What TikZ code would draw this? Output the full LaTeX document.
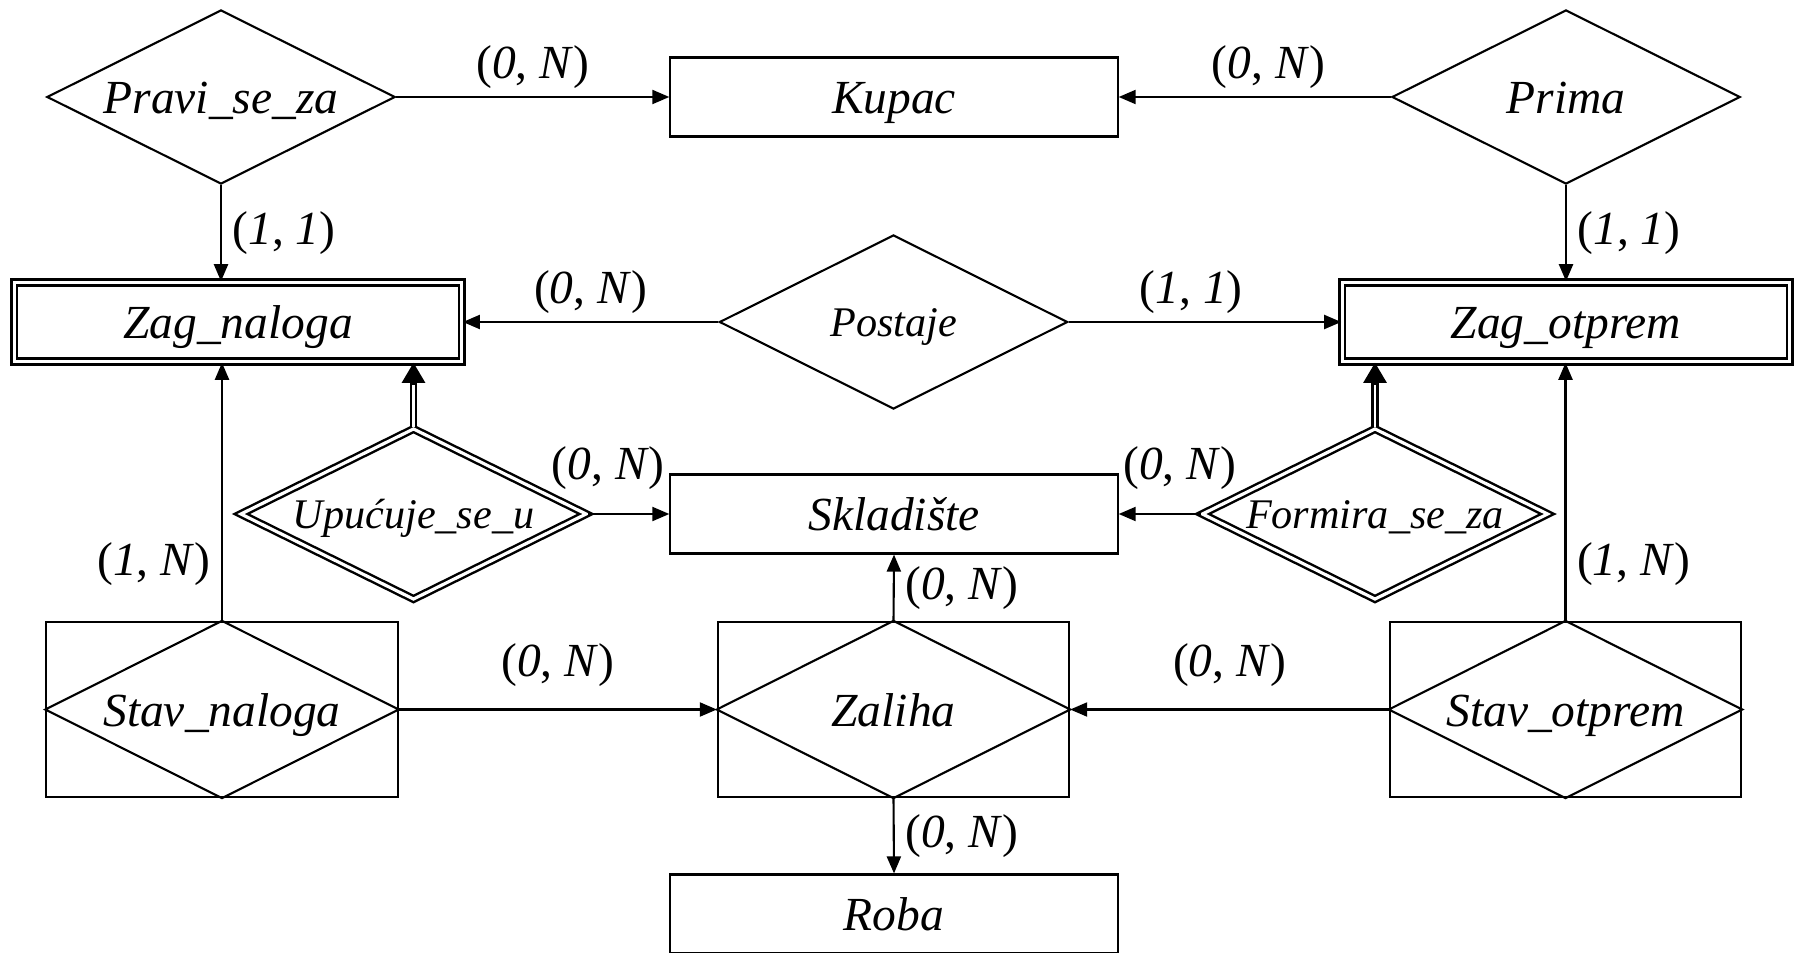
\documentclass[tikz,border=0pt]{standalone}
\usepackage{fontspec}
\setmainfont{Liberation Serif}
\usetikzlibrary{shapes.geometric,arrows.meta,calc}

\tikzset{
  ent/.style={draw, line width=0.6pt, minimum width=4.47cm, minimum height=0.79cm,
    inner sep=0pt, text height=0.38cm, text depth=0.05cm, font=\fontsize{13.5}{16}\selectfont\itshape},
  weakent/.style={ent, double, double distance=0.9pt, line width=0.7pt},
  rel/.style={draw, diamond, aspect=2, line width=0.6pt, minimum width=3.48cm, minimum height=1.74cm,
    inner sep=0pt, text height=0.38cm, text depth=0.05cm, font=\fontsize{13.5}{16}\selectfont\itshape},
  smallrel/.style={rel, text height=0.33cm, text depth=0.05cm, font=\fontsize{12}{14}\selectfont\itshape},
  weakrel/.style={smallrel, double, double distance=0.9pt, line width=0.7pt,
    minimum width=3.46cm, minimum height=1.71cm},
  assoc/.style={ent, minimum width=3.51cm, minimum height=1.75cm},
  con/.style={line width=0.6pt, -{Triangle[length=0.17cm,width=0.14cm]}},
  idline/.style={line width=0.7pt, double, double distance=0.7pt, shorten >=0.19cm},
  idtip/.style={line width=0.7pt, shorten <=0.42cm, -{Triangle[length=0.2cm,width=0.23cm]}},
  card/.style={inner sep=1pt, font=\fontsize{13.5}{16}\selectfont}
}
\newcommand{\kard}[2]{(\textit{#1}, \textit{#2})}

\begin{document}
\begin{tikzpicture}[x=0.01cm, y=-0.01cm]
\useasboundingbox (0,0) rectangle (1795,952);

\node[rel] (pravi) at (221,97) {Pravi\_se\_za};
\node[ent] (kupac) at (894,97) {Kupac};
\node[rel] (prima) at (1566,97) {Prima};

\node[weakent] (zagnal) at (238,322) {Zag\_naloga};
\node[smallrel] (postaje) at (893.5,322) {Postaje};
\node[weakent] (zagotp) at (1566,322) {Zag\_otprem};

\node[weakrel] (upuc) at (413.5,514) {Upućuje\_se\_u};
\node[ent] (sklad) at (894,514) {Skladište};
\node[weakrel] (formira) at (1375,514) {Formira\_se\_za};

\node[assoc] (stavnal) at (222,709.5) {Stav\_naloga};
\node[assoc] (zaliha) at (893.5,709.5) {Zaliha};
\node[assoc] (stavotp) at (1565.5,709.5) {Stav\_otprem};
\node[ent] (roba) at (894,914) {Roba};

% diamonds inside the associative boxes
\foreach \n in {stavnal,zaliha,stavotp}
  \draw[line width=0.6pt] (\n.north) -- (\n.east) -- (\n.south) -- (\n.west) -- cycle;

\draw[con] (pravi) -- node[card, above=1pt] {\kard{0}{N}} (kupac);
\draw[con] (prima) -- node[card, above=1pt, pos=0.45] {\kard{0}{N}} (kupac);
\draw[con] (pravi.south) -- node[card, right=2pt] {\kard{1}{1}} (pravi.south |- zagnal.north);
\draw[con] (prima.south) -- node[card, right=2pt] {\kard{1}{1}} (prima.south |- zagotp.north);

\draw[con] (postaje) -- node[card, above=1pt] {\kard{0}{N}} (zagnal);
\draw[con] (postaje) -- node[card, above=1pt, pos=0.45] {\kard{1}{1}} (zagotp);

% identifying links, double line with a big tip
\draw[idline] (upuc.north) -- (upuc.north |- zagnal.south);
\draw[idtip] (upuc.north) -- (upuc.north |- zagnal.south);
\draw[idline] (formira.north) -- (formira.north |- zagotp.south);
\draw[idtip] (formira.north) -- (formira.north |- zagotp.south);
\draw[con] (upuc.east) -- node[card, pos=1, anchor=south east, yshift=5.5pt] {\kard{0}{N}} (sklad.west);
\draw[con] (formira.west) -- node[card, pos=1, anchor=south west, yshift=5.5pt] {\kard{0}{N}} (sklad.east);

\draw[con] (stavnal.north) -- node[card, left=2pt, pos=0.22] {\kard{1}{N}} (stavnal.north |- zagnal.south);
\draw[con] (stavotp.north) -- node[card, right=2pt, pos=0.22] {\kard{1}{N}} (stavotp.north |- zagotp.south);
\draw[con] (stavnal.east) -- node[card, above=1pt, yshift=4.3pt] {\kard{0}{N}} (zaliha.west);
\draw[con] (stavotp.west) -- node[card, above=1pt, yshift=4.3pt] {\kard{0}{N}} (zaliha.east);
\draw[con] (zaliha.north) -- node[card, right=2pt] {\kard{0}{N}} (sklad.south);
\draw[con] (zaliha.south) -- node[card, right=2pt] {\kard{0}{N}} (roba.north);

\end{tikzpicture}
\end{document}
